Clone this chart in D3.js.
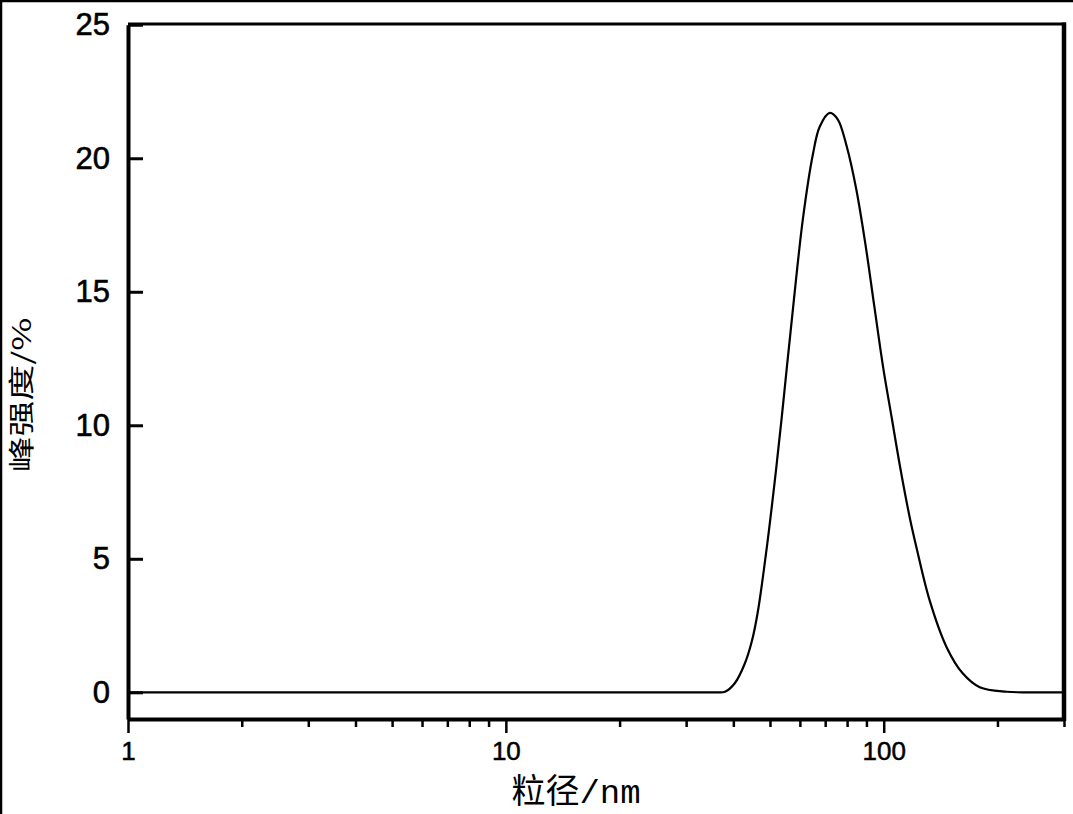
<!DOCTYPE html>
<html>
<head>
<meta charset="utf-8">
<script src="https://cdn.jsdelivr.net/npm/d3@7"></script>
<style>
  html, body { margin: 0; padding: 0; background: #fff; }
  svg { display: block; }
</style>
</head>
<body>
<svg id="chart" width="1073" height="814"></svg>
<script>
// ---- data ----
const sizes = [1, 30, 36, 38.0, 40.35, 42.9, 44.75, 46.4, 49.0, 51.5, 53.7, 55.4, 57.8, 61.1, 64.9, 67.7, 71.95, 75.55, 79.8, 84.6, 89.6, 94.4, 99.7, 105.0, 110.6, 117.2, 122.3, 132.3, 146.8, 161.8, 179.5, 211.6, 250, 300];
const intensity = [0, 0, 0, 0.02, 0.34, 1.08, 1.90, 2.99, 5.38, 7.93, 10.28, 12.15, 14.65, 17.72, 20.12, 21.18, 21.70, 21.46, 20.45, 18.84, 16.71, 14.47, 12.15, 10.28, 8.41, 6.54, 5.38, 3.44, 1.68, 0.71, 0.19, 0.02, 0, 0];
const xMajorTicks = [1, 10, 100];
const xMinorTicks = [2, 3, 4, 5, 6, 7, 8, 9, 20, 30, 40, 50, 60, 70, 80, 90, 200, 300];
const yTicks = [0, 5, 10, 15, 20, 25];
const xTitle = "粒径/nm";
const yTitle = "峰强度/%";

// ---- layout ----
const svg = d3.select("#chart");
const L = 128, R = 1064, T = 24, B = 719;

const x = d3.scaleLog().domain([1, 300]).range([L, R]);
const y = d3.scaleLinear().domain([-1, 25]).range([B, T + 0.75]);

// outer border (top & left edge of the image)
svg.append("line").attr("x1", 0).attr("x2", 1073).attr("y1", 1).attr("y2", 1)
  .attr("stroke", "#000").attr("stroke-width", 2.5);
svg.append("line").attr("x1", 1).attr("x2", 1).attr("y1", 0).attr("y2", 814)
  .attr("stroke", "#000").attr("stroke-width", 2.5);

// frame: top and right
svg.append("line").attr("x1", L).attr("x2", R + 2).attr("y1", T).attr("y2", T)
  .attr("stroke", "#000").attr("stroke-width", 3);
svg.append("line").attr("x1", R).attr("x2", R).attr("y1", T - 1.5).attr("y2", B + 2)
  .attr("stroke", "#000").attr("stroke-width", 4.5);

// curve
const line = d3.line()
  .x((d, i) => x(sizes[i]))
  .y(d => Math.min(y(d), y(0)))
  .curve(d3.curveCatmullRom.alpha(0.5));
svg.append("path")
  .datum(intensity)
  .attr("d", line)
  .attr("fill", "none")
  .attr("stroke", "#000")
  .attr("stroke-width", 2.2)
  .attr("stroke-linejoin", "round");

// x axis: minor ticks
const xMinor = svg.append("g").attr("transform", `translate(0,${B})`)
  .call(d3.axisBottom(x).tickValues(xMinorTicks).tickSize(8).tickFormat(""));
xMinor.select(".domain").remove();
xMinor.selectAll(".tick line").attr("stroke-width", 2.5);

// x axis: major ticks with labels
const xMajor = svg.append("g").attr("transform", `translate(0,${B})`)
  .call(d3.axisBottom(x).tickValues(xMajorTicks).tickSize(14).tickSizeOuter(0)
    .tickPadding(9).tickFormat(d3.format("d")));
xMajor.select(".domain").attr("stroke-width", 4);
xMajor.selectAll(".tick line").attr("stroke-width", 2.5);
xMajor.selectAll(".tick text")
  .attr("font-family", "'Liberation Sans', Arial, sans-serif")
  .attr("font-size", 26)
  .attr("fill", "#000")
  .attr("stroke", "#000").attr("stroke-width", 0.5);

// y axis (ticks pointing inward)
const yAxis = svg.append("g").attr("transform", `translate(${L},0)`)
  .call(d3.axisLeft(y).tickValues(yTicks).tickSizeInner(-15).tickSizeOuter(0)
    .tickPadding(18).tickFormat(d3.format("d")));
yAxis.select(".domain").attr("stroke-width", 4);
yAxis.selectAll(".tick line").attr("stroke-width", 3);
yAxis.selectAll(".tick text")
  .attr("font-family", "'Liberation Sans', Arial, sans-serif")
  .attr("font-size", 31)
  .attr("fill", "#000")
  .attr("stroke", "#000").attr("stroke-width", 0.6);

// axis titles
svg.append("text")
  .attr("x", 576).attr("y", 803)
  .attr("text-anchor", "middle")
  .attr("font-family", "'Liberation Mono', 'Noto Sans CJK SC', monospace")
  .attr("font-size", 34)
  .attr("fill", "#000")
  .text(xTitle);

svg.append("text")
  .attr("transform", "translate(31,395) rotate(-90) scale(1.38,1)")
  .attr("text-anchor", "middle")
  .attr("font-family", "'Noto Sans CJK SC', sans-serif")
  .attr("font-size", 26)
  .attr("fill", "#000")
  .text(yTitle);
</script>
</body>
</html>
